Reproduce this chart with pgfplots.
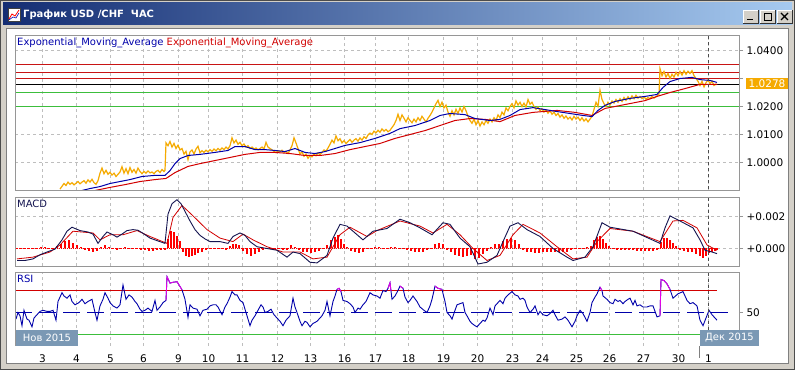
\documentclass[border=0pt]{standalone}
\usepackage{pgfplots}
\pgfplotsset{compat=1.18}
\usepackage{fontspec}
\setmainfont{DejaVu Sans}
\newcommand\sz{\fontsize{10bp}{12bp}\selectfont}
\newcommand\tz{\fontsize{10.5bp}{12bp}\selectfont}
\definecolor{pr}{RGB}{245,170,0}
\definecolor{emab}{RGB}{0,0,170}
\definecolor{emar}{RGB}{210,0,0}
\definecolor{hred}{RGB}{200,20,20}
\definecolor{hgreen}{RGB}{60,190,60}
\definecolor{grd}{RGB}{190,190,190}
\definecolor{pan}{RGB}{150,150,150}
\definecolor{winbg}{RGB}{212,208,200}
\definecolor{boxc}{RGB}{122,152,180}
\definecolor{macdl}{RGB}{20,20,80}
\definecolor{rsib}{RGB}{0,0,170}
\definecolor{mag}{RGB}{230,0,230}
\definecolor{tl}{RGB}{20,45,115}
\definecolor{tr}{RGB}{166,202,240}
\pgfplotsset{panel/.style={scale only axis, width=724bp, xmin=15, xmax=739,
  anchor=south west, axis line style={draw=none},
  xtick={42.5,76.5,110.5,143.5,178.5,208.5,242.5,277.5,310.5,344.5,375.5,408.5,443.5,477.5,512.5,542.5,576.5,609.5,643.5,678.5,708.5},
  xticklabels={}, xtick style={draw=none}, xmajorgrids,
  major grid style={grd, dash pattern=on 3bp off 3bp, line width=1bp},
  ytick pos=right, yticklabel pos=right, tick align=outside, major tick length=4bp,
  ytick style={pan, line width=1bp}, tick label style={font=\tz},
  scaled y ticks=false, every axis plot post/.append style={mark=none}}}
\begin{document}
\begin{tikzpicture}
\useasboundingbox (0,0) rectangle (795bp,370bp);
\begin{scope}[x=1bp,y=-1bp,shift={(0bp,370bp)}]
\fill[winbg] (0,0) rectangle (795,370);
\draw[gray!60!black, line width=0.8bp] (0.5,0.5) rectangle (794.5,369.5);
\shade[left color=tl, right color=tr] (3,3) rectangle (792,25);
\fill[white] (6,28) rectangle (789,364);
\draw[gray, line width=1bp] (6.5,28.5) rectangle (788.5,363.5);
\fill[white] (8,8) rectangle (20,21);
\draw[gray!50!black,line width=0.5bp] (8,8) rectangle (20,21);
\draw[red, line width=0.8bp] (9,19)--(12,14)--(15,16)--(19,10);
\draw[blue!70!black, line width=0.6bp] (9,20)--(13,17)--(16,18)--(19,13);
\node[anchor=west, text=white, font=\sz\bfseries, inner sep=0pt] at (23,15) {График USD /CHF\ \ ЧАС};
\foreach \bx in {743,760,777}{
 \fill[winbg] (\bx,10) rectangle (\bx+15,23);
 \draw[white, line width=0.8bp] (\bx,23)--(\bx,10)--(\bx+15,10);
 \draw[gray!40!black, line width=0.8bp] (\bx,23)--(\bx+15,23)--(\bx+15,10);
}
\draw[black, line width=1.5bp] (747,19.5)--(753,19.5);
\draw[black, line width=0.8bp] (764,13) rectangle (771,20);
\draw[black, line width=1.5bp] (764,13.5)--(771,13.5);
\draw[black, line width=1.2bp] (781,13)--(788,20) (781,20)--(788,13);
\end{scope}

% ---------- main price panel
\begin{axis}[panel, at={(15bp,180bp)}, height=155bp, ymin=0.990179, ymax=1.045536,
  ytick={1.00,1.01,1.02,1.03,1.04}, yticklabels={1.0000,1.0100,1.0200,,1.0400}, ymajorgrids]
\addplot[hred, line width=1bp] coordinates {(15,1.035)(739,1.035)};
\addplot[hred, line width=1bp] coordinates {(15,1.032143)(739,1.032143)};
\addplot[hred, line width=1bp] coordinates {(15,1.03)(739,1.03)};
\addplot[black, line width=1bp] coordinates {(15,1.0278)(739,1.0278)};
\addplot[hgreen, line width=1bp] coordinates {(15,1.025)(739,1.025)};
\addplot[hgreen, line width=1bp] coordinates {(15,1.0200)(739,1.0200)};
\addplot[pr, line width=1.2bp] coordinates {(60,0.9905)(62,0.9915)(64,0.9925)(66,0.9918)(68,0.9930)(70,0.9922)(72,0.9928)(74,0.9920)(76,0.9926)(78,0.9932)(80,0.9924)(82,0.9930)(84,0.9935)(86,0.9926)(88,0.9938)(90,0.9930)(92,0.9940)(94,0.9928)(96,0.9922)(98,0.9935)(100,0.9962)(102,0.9980)(104,0.9960)(106,0.9972)(108,0.9958)(110,0.9965)(112,0.9955)(114,0.9962)(116,0.9950)(118,0.9958)(120,0.9966)(122,0.9985)(124,0.9962)(126,0.9978)(128,0.9960)(130,0.9982)(132,0.9965)(134,0.9975)(136,0.9962)(138,0.9980)(140,0.9968)(142,0.9960)(144,0.9968)(146,0.9962)(148,0.9970)(150,0.9963)(152,0.9966)(154,0.9960)(156,0.9968)(158,0.9972)(160,0.9964)(162,0.9975)(164,0.9968)(165,0.9972)(166,1.0070)(168,1.0060)(170,1.0075)(172,1.0055)(174,1.0068)(176,1.0050)(178,1.0062)(180,1.0045)(182,1.0050)(184,1.0030)(186,1.0040)(188,1.0010)(190,1.0038)(192,1.0045)(194,1.0030)(196,1.0048)(198,1.0058)(200,1.0035)(202,1.0042)(204,1.0036)(206,1.0044)(208,1.0038)(210,1.0046)(212,1.0040)(214,1.0048)(216,1.0042)(218,1.0050)(220,1.0044)(222,1.0052)(224,1.0046)(226,1.0055)(228,1.0048)(230,1.0060)(232,1.0088)(234,1.0070)(236,1.0080)(238,1.0065)(240,1.0072)(242,1.0060)(244,1.0066)(246,1.0055)(248,1.0060)(250,1.0050)(252,1.0055)(254,1.0048)(256,1.0052)(258,1.0045)(260,1.0050)(262,1.0055)(264,1.0048)(266,1.0072)(268,1.0055)(270,1.0050)(272,1.0045)(274,1.0040)(276,1.0035)(278,1.0042)(280,1.0038)(282,1.0044)(284,1.0036)(286,1.0040)(288,1.0032)(290,1.0045)(292,1.0060)(294,1.0088)(296,1.0070)(298,1.0050)(300,1.0030)(302,1.0038)(304,1.0022)(306,1.0030)(308,1.0015)(310,1.0025)(312,1.0020)(314,1.0030)(316,1.0024)(318,1.0034)(320,1.0028)(322,1.0036)(324,1.0045)(326,1.0040)(328,1.0052)(330,1.0065)(332,1.0080)(334,1.0070)(336,1.0095)(338,1.0078)(340,1.0085)(342,1.0070)(344,1.0078)(346,1.0068)(348,1.0075)(350,1.0082)(352,1.0072)(354,1.0080)(356,1.0085)(358,1.0076)(360,1.0088)(362,1.0080)(364,1.0092)(366,1.0086)(368,1.0098)(370,1.0105)(372,1.0100)(374,1.0112)(376,1.0106)(378,1.0115)(380,1.0108)(382,1.0120)(384,1.0112)(386,1.0118)(388,1.0110)(390,1.0115)(392,1.0125)(394,1.0135)(396,1.0150)(398,1.0172)(400,1.0150)(402,1.0170)(404,1.0158)(406,1.0145)(408,1.0160)(410,1.0150)(412,1.0142)(414,1.0155)(416,1.0145)(418,1.0160)(420,1.0150)(422,1.0165)(424,1.0155)(426,1.0145)(428,1.0158)(430,1.0168)(432,1.0180)(434,1.0195)(436,1.0210)(438,1.0222)(440,1.0200)(442,1.0215)(444,1.0195)(446,1.0205)(448,1.0180)(450,1.0165)(452,1.0185)(454,1.0170)(456,1.0190)(458,1.0175)(460,1.0195)(462,1.0180)(464,1.0200)(466,1.0185)(468,1.0165)(470,1.0150)(472,1.0140)(474,1.0155)(476,1.0135)(478,1.0150)(480,1.0130)(482,1.0145)(484,1.0135)(486,1.0150)(488,1.0140)(490,1.0155)(492,1.0145)(494,1.0160)(496,1.0150)(498,1.0170)(500,1.0160)(502,1.0180)(504,1.0170)(506,1.0195)(508,1.0185)(510,1.0200)(512,1.0210)(514,1.0195)(516,1.0220)(518,1.0205)(520,1.0215)(522,1.0200)(524,1.0212)(526,1.0198)(528,1.0225)(530,1.0208)(532,1.0215)(534,1.0200)(536,1.0190)(538,1.0198)(540,1.0185)(542,1.0192)(544,1.0180)(546,1.0188)(548,1.0176)(550,1.0185)(552,1.0172)(554,1.0180)(556,1.0168)(558,1.0175)(560,1.0162)(562,1.0170)(564,1.0158)(566,1.0166)(568,1.0155)(570,1.0162)(572,1.0152)(574,1.0165)(576,1.0155)(578,1.0162)(580,1.0150)(582,1.0160)(584,1.0148)(586,1.0156)(588,1.0145)(590,1.0155)(592,1.0165)(594,1.0190)(596,1.0215)(598,1.0200)(600,1.0258)(602,1.0225)(604,1.0210)(606,1.0200)(608,1.0215)(610,1.0205)(612,1.0220)(614,1.0212)(616,1.0225)(618,1.0215)(620,1.0228)(622,1.0218)(624,1.0232)(626,1.0222)(628,1.0235)(630,1.0225)(632,1.0238)(634,1.0228)(636,1.0240)(638,1.0230)(640,1.0236)(642,1.0228)(644,1.0234)(646,1.0226)(648,1.0232)(650,1.0228)(652,1.0236)(654,1.0230)(656,1.0235)(658,1.0240)(659,1.0245)(660,1.0335)(662,1.0310)(664,1.0325)(666,1.0305)(668,1.0318)(670,1.0300)(672,1.0315)(674,1.0305)(676,1.0322)(678,1.0310)(680,1.0325)(682,1.0312)(684,1.0328)(686,1.0315)(688,1.0326)(690,1.0318)(692,1.0328)(694,1.0310)(696,1.0300)(698,1.0290)(700,1.0275)(702,1.0290)(704,1.0270)(706,1.0285)(708,1.0295)(710,1.0282)(712,1.0290)(714,1.0275)(716,1.0280)(717,1.0278)};
\addplot[emar, line width=1bp] coordinates {(95,0.9900)(110,0.9911)(125,0.9921)(140,0.9932)(155,0.9939)(166,0.9943)(175,0.9964)(188,0.9986)(200,0.9996)(215,1.0007)(230,1.0018)(245,1.0029)(260,1.0036)(275,1.0036)(290,1.0032)(305,1.0025)(320,1.0025)(335,1.0032)(350,1.0046)(365,1.0057)(380,1.0068)(395,1.0086)(410,1.0100)(425,1.0114)(440,1.0132)(455,1.0150)(470,1.0157)(485,1.0154)(500,1.0146)(515,1.0168)(533,1.0179)(557,1.0186)(575,1.0179)(592,1.0168)(605,1.0193)(625,1.0207)(645,1.0221)(657,1.0236)(670,1.0250)(685,1.0264)(700,1.0279)(717,1.0279)};
\addplot[emab, line width=1bp] coordinates {(82,0.9900)(90,0.9907)(100,0.9914)(110,0.9925)(120,0.9932)(130,0.9939)(142,0.9950)(155,0.9954)(165,0.9954)(170,0.9971)(175,0.9996)(180,1.0014)(188,1.0025)(200,1.0029)(215,1.0036)(228,1.0043)(235,1.0057)(245,1.0057)(255,1.0046)(265,1.0046)(275,1.0043)(285,1.0039)(295,1.0050)(305,1.0036)(315,1.0032)(325,1.0039)(335,1.0050)(345,1.0061)(360,1.0071)(375,1.0086)(390,1.0104)(400,1.0121)(415,1.0132)(430,1.0150)(440,1.0168)(450,1.0175)(465,1.0171)(475,1.0157)(490,1.0150)(500,1.0154)(510,1.0168)(520,1.0189)(533,1.0196)(545,1.0189)(557,1.0182)(570,1.0175)(583,1.0168)(592,1.0164)(598,1.0186)(605,1.0204)(615,1.0218)(630,1.0229)(645,1.0236)(657,1.0243)(663,1.0268)(670,1.0289)(680,1.0300)(692,1.0304)(700,1.0296)(710,1.0293)(717,1.0286)};
\end{axis}

% ---------- MACD panel
\begin{axis}[panel, at={(15bp,104bp)}, height=69bp, ymin=-0.001094, ymax=0.003219,
  ytick={0,0.002}, yticklabels={+0.000,+0.002}, ymajorgrids]
\addplot[red, densely dotted, line width=1bp] coordinates {(15,0)(717,0)};
\addplot[red, ycomb, line width=1.1bp] coordinates {(17,-0.00005)(21,-0.00003)(25,0.00002)(29,-0.00004)(33,-0.00003)(37,0.00006)(41,0.00008)(45,0.00007)(49,0.00004)(53,0.00005)(57,0.00015)(61,0.00030)(65,0.00045)(69,0.00050)(73,0.00035)(77,0.00020)(81,0.00008)(85,-0.00008)(89,-0.00015)(93,-0.00025)(97,-0.00015)(101,0.00010)(105,0.00020)(109,0.00008)(113,-0.00005)(117,-0.00008)(121,0.00005)(125,0.00008)(129,0.00006)(133,0.00003)(137,-0.00004)(141,-0.00008)(145,-0.00012)(149,-0.00015)(153,-0.00014)(157,-0.00012)(161,-0.00010)(165,-0.00008)(168,0.00060)(171,0.00110)(174,0.00100)(177,0.00080)(180,0.00045)(183,-0.00020)(186,-0.00045)(189,-0.00055)(192,-0.00050)(195,-0.00040)(198,-0.00030)(202,-0.00020)(206,-0.00012)(210,-0.00006)(214,-0.00003)(218,0.00003)(222,-0.00005)(226,-0.00008)(230,0.00015)(233,0.00030)(236,0.00030)(239,0.00020)(243,-0.00015)(247,-0.00035)(251,-0.00045)(255,-0.00035)(259,-0.00020)(263,-0.00010)(267,-0.00005)(271,0.00003)(275,-0.00003)(279,-0.00006)(283,-0.00010)(287,-0.00008)(291,0.00020)(295,0.00010)(299,-0.00010)(303,-0.00025)(307,-0.00025)(311,-0.00030)(315,-0.00025)(319,-0.00015)(323,-0.00005)(327,0.00020)(331,0.00050)(335,0.00070)(338,0.00085)(341,0.00060)(344,0.00030)(347,0.00010)(351,-0.00015)(355,-0.00025)(359,-0.00030)(363,-0.00020)(367,-0.00005)(371,0.00005)(375,0.00010)(379,0.00010)(383,0.00005)(387,0.00003)(391,0.00008)(395,0.00010)(399,0.00005)(403,-0.00003)(407,-0.00008)(411,-0.00015)(415,-0.00020)(419,-0.00025)(423,-0.00020)(427,-0.00008)(431,0.00005)(435,0.00025)(439,0.00035)(443,0.00030)(447,-0.00010)(451,-0.00025)(455,-0.00040)(459,-0.00050)(463,-0.00055)(467,-0.00050)(471,-0.00040)(475,-0.00065)(479,-0.00060)(483,-0.00035)(487,-0.00015)(491,0.00010)(495,0.00025)(499,0.00030)(503,0.00045)(507,0.00060)(511,0.00065)(515,0.00050)(519,0.00025)(523,-0.00010)(527,-0.00020)(531,-0.00025)(535,-0.00030)(539,-0.00030)(543,-0.00025)(547,-0.00025)(551,-0.00020)(555,-0.00020)(559,-0.00025)(563,-0.00025)(567,-0.00020)(571,-0.00010)(575,-0.00005)(579,0.00003)(583,0.00005)(587,0.00008)(591,0.00015)(594,0.00050)(597,0.00070)(600,0.00075)(603,0.00060)(606,0.00035)(609,0.00015)(613,-0.00005)(617,-0.00008)(621,-0.00010)(625,-0.00008)(629,-0.00010)(633,-0.00012)(637,-0.00015)(641,-0.00013)(645,-0.00015)(649,-0.00018)(653,-0.00015)(657,-0.00012)(661,0.00040)(664,0.00065)(667,0.00065)(670,0.00050)(673,0.00035)(676,0.00015)(680,-0.00008)(684,-0.00015)(688,-0.00020)(692,-0.00025)(696,-0.00035)(700,-0.00050)(703,-0.00060)(706,-0.00050)(709,-0.00030)(712,-0.00020)(715,-0.00015)(717,-0.00010)};
\addplot[emar, line width=0.8bp] coordinates {(17,-0.00065)(33,-0.00054)(50,-0.00022)(60,0.00022)(73,0.00108)(93,0.00097)(100,0.00054)(110,0.00086)(123,0.00086)(137,0.00112)(150,0.00075)(167,0.00032)(173,0.00194)(182,0.00269)(193,0.00204)(207,0.00118)(220,0.00065)(233,0.00043)(243,0.00090)(253,0.00054)(267,0.00011)(283,-0.00022)(300,-0.00022)(313,-0.00065)(327,-0.00054)(340,0.00086)(350,0.00133)(367,0.00075)(377,0.00112)(400,0.00172)(420,0.00140)(433,0.00097)(447,0.00151)(460,0.00086)(473,0.00000)(487,-0.00075)(500,-0.00043)(513,0.00086)(523,0.00151)(540,0.00097)(557,0.00011)(573,-0.00065)(587,-0.00054)(597,0.00043)(610,0.00125)(633,0.00108)(660,0.00043)(673,0.00172)(683,0.00176)(697,0.00129)(707,0.00022)(717,-0.00011)};
\addplot[macdl, line width=0.9bp] coordinates {(17,-0.00075)(25,-0.00075)(33,-0.00065)(40,-0.00039)(47,-0.00022)(55,-0.00004)(62,0.00054)(67,0.00108)(72,0.00133)(80,0.00112)(88,0.00103)(93,0.00090)(98,0.00032)(103,0.00075)(107,0.00103)(113,0.00086)(117,0.00071)(122,0.00090)(127,0.00112)(133,0.00118)(138,0.00114)(143,0.00095)(150,0.00065)(158,0.00047)(165,0.00032)(168,0.00215)(172,0.00280)(177,0.00305)(181,0.00280)(185,0.00232)(190,0.00172)(195,0.00118)(200,0.00082)(205,0.00060)(210,0.00043)(220,0.00043)(228,0.00032)(233,0.00075)(240,0.00097)(245,0.00082)(250,0.00043)(257,0.00011)(267,0.00000)(277,-0.00011)(287,-0.00054)(293,-0.00022)(300,-0.00032)(310,-0.00086)(317,-0.00090)(327,-0.00043)(333,0.00065)(340,0.00151)(347,0.00140)(353,0.00108)(363,0.00054)(373,0.00108)(387,0.00125)(400,0.00183)(410,0.00161)(420,0.00129)(432,0.00086)(443,0.00161)(450,0.00151)(460,0.00065)(470,0.00011)(478,-0.00097)(487,-0.00086)(497,-0.00043)(503,0.00043)(510,0.00140)(518,0.00161)(527,0.00118)(540,0.00075)(553,0.00000)(567,-0.00054)(573,-0.00075)(585,-0.00054)(593,0.00011)(602,0.00161)(610,0.00133)(633,0.00108)(660,0.00032)(665,0.00129)(670,0.00204)(680,0.00172)(693,0.00129)(700,0.00054)(705,-0.00011)(712,-0.00022)(717,-0.00032)};
\end{axis}

% ---------- RSI panel
\begin{axis}[panel, at={(15bp,24bp)}, height=74bp, ymin=19.545, ymax=86.82,
  ytick={50}, yticklabels={50},
  xticklabels={3,4,5,6,9,10,11,12,13,16,17,18,19,20,23,24,25,26,27,30,1},
  xticklabel style={yshift=-1bp}]
\addplot[rsib, line width=1bp, dash pattern=on 17bp off 7bp] coordinates {(15,50)(728,50)};
\addplot[emar, line width=1bp] coordinates {(15,70)(717,70)};
\addplot[hgreen, line width=1bp] coordinates {(15,30)(717,30)};
\addplot[rsib, line width=0.9bp] coordinates {(16,44)(18,50)(20,47)(22,38)(24,52)(27,44)(29,43)(32,37)(34,45)(37,48)(40,51)(43,52)(47,51)(50,51)(53,52)(56,43)(58,60)(60,64)(62,68)(64,65)(67,63)(70,66)(72,60)(75,57)(79,59)(82,62)(85,58)(88,60)(92,62)(95,50)(97,43)(100,56)(103,62)(105,68)(108,63)(110,59)(113,56)(117,54)(120,57)(123,75)(126,62)(129,66)(132,64)(135,60)(137,58)(140,53)(142,51)(145,52)(148,54)(152,51)(155,61)(157,52)(160,55)(163,59)(166,61)(167,82.6)(170,76.7)(173,77.5)(177,78)(182,70.7)(185,62)(188,45.6)(190,57)(193,54)(197,53)(200,47)(203,52)(207,53)(210,56)(213,57)(216,57)(218,55)(222,48)(225,55)(227,58)(230,64)(232,69)(235,66)(237,66)(240,61)(243,59)(246,50)(248,44)(250,38)(252,43)(255,47)(258,52)(261,57)(263,55)(265,50)(268,51)(271,53)(274,48)(277,45)(280,42)(283,38)(286,43)(290,47)(293,63)(295,55)(297,50)(300,42)(302,38)(305,42)(307,41)(310,37)(313,40)(317,42)(320,45)(322,47)(325,52)(327,60)(330,47)(333,60)(335,65)(337,71)(339,72)(341,69)(343,61)(347,60)(350,58)(353,55)(355,50)(358,54)(360,53)(363,57)(366,60)(370,68)(373,66)(377,65)(380,63)(383,70)(386,69)(388,72)(390,77)(392,62)(395,65)(398,70)(400,74)(403,72)(405,64)(408,59)(410,61)(413,65)(417,60)(420,55)(424,52)(427,50)(430,56)(432,62)(435,74)(438,72)(442,71)(445,60)(447,50)(450,47)(452,44)(455,52)(457,57)(460,58)(463,59)(465,50)(467,47)(470,42)(472,40)(475,38)(477,37)(480,40)(483,43)(485,42)(487,45)(490,54)(493,48)(495,56)(498,59)(500,61)(503,58)(505,63)(508,66)(512,69)(515,66)(518,65)(520,62)(523,63)(525,61)(527,55)(530,50)(533,53)(535,56)(538,48)(540,51)(543,48)(547,47)(550,49)(553,52)(555,48)(558,43)(562,44)(565,46)(568,43)(572,37)(575,42)(577,47)(580,52)(583,49)(587,42)(590,50)(592,59)(595,64)(597,67)(600,73)(602,70)(603,65)(607,62)(610,59)(613,58)(615,62)(618,60)(620,61)(623,58)(625,60)(628,62)(630,63)(633,57)(635,61)(637,56)(640,57)(643,55)(647,55)(650,56)(653,56)(657,46)(660,47)(661,80)(664,79)(667,76)(670,71)(673,63)(678,67)(683,69)(687,61)(690,58)(693,59)(697,56)(700,43)(703,38)(706,45)(709,52)(712,48)(715,45)(717,43)};
\addplot[mag, line width=0.9bp] coordinates {(166,61)(167,82.6)(170,76.7)(173,77.5)(177,78)(182,70.7)};
\addplot[mag, line width=0.9bp] coordinates {(337,71)(339,72)(341,69)};
\addplot[mag, line width=0.9bp] coordinates {(388,72)(390,77)(391,69.5)};
\addplot[mag, line width=0.9bp] coordinates {(400,74)(403,72)};
\addplot[mag, line width=0.9bp] coordinates {(435,74)(438,72)(442,71)};
\addplot[mag, line width=0.9bp] coordinates {(600,73)(602,70)};
\addplot[mag, line width=0.9bp] coordinates {(660,47)(661,80)(664,79)(667,76)(670,71)};
\end{axis}

\begin{scope}[x=1bp,y=-1bp,shift={(0bp,370bp)}]
\draw[pan, line width=1bp] (15.5,35.5) rectangle (739.5,190.5);
\draw[pan, line width=1bp] (15.5,197.5) rectangle (739.5,266.5);
\draw[pan, line width=1bp] (15.5,346)--(15.5,272.5)--(739.5,272.5)--(739.5,346);
\draw[gray!60!black, dash pattern=on 3bp off 3bp, line width=1bp] (708.5,36)--(708.5,190) (708.5,198)--(708.5,266) (708.5,273)--(708.5,346);
\draw[gray, line width=1bp] (699.5,346)--(699.5,358);
\node[anchor=west, inner sep=0pt, font=\sz] at (17,43) {\textcolor{emab}{Exponential\_Moving\_Average} \textcolor{emar}{Exponential\_Moving\_Average}};
\node[anchor=west, inner sep=0pt, font=\sz, text=macdl] at (17,204) {MACD};
\node[anchor=west, inner sep=0pt, font=\sz, text=rsib] at (17,279) {RSI};
\fill[pr] (746,78) rectangle (788,89);
\node[text=white, font=\tz, inner sep=0pt] at (767,83.5) {1.0278};
\fill[boxc] (16,330) rectangle (78,346);
\node[text=white, font=\sz, inner sep=0pt] at (47,338) {Нов 2015};
\fill[boxc] (700,330) rectangle (759,346);
\node[text=white, font=\sz, inner sep=0pt] at (729.5,338) {Дек 2015};
\end{scope}
\end{tikzpicture}
\end{document}
